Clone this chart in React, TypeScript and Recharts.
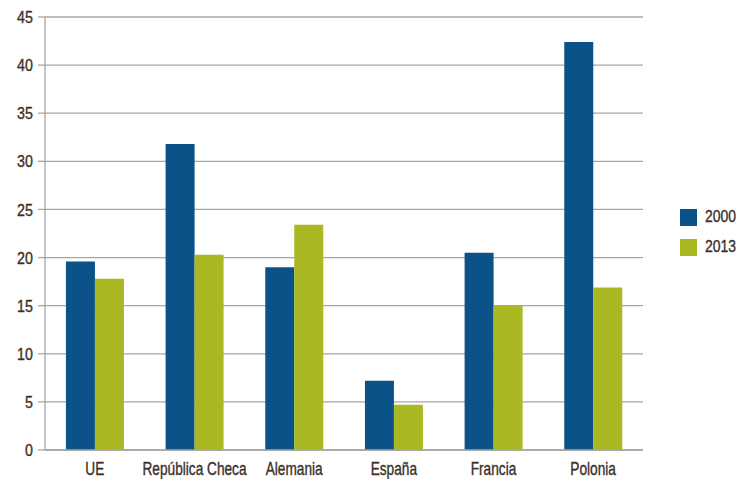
import {
  BarChart,
  Bar,
  XAxis,
  YAxis,
  CartesianGrid,
} from "recharts"

const COUNTRIES = ["UE", "República Checa", "Alemania", "España", "Francia", "Polonia"]
const Y2000 = [19.6, 31.8, 19.0, 7.2, 20.5, 42.4]
const Y2013 = [17.8, 20.3, 23.4, 4.7, 15.0, 16.9]
const Y_TICKS = [0, 5, 10, 15, 20, 25, 30, 35, 40, 45]
const BOUNDARIES = [0, 1, 2, 3, 4, 5, 6]
const SERIES = [
  { key: "2000", color: "#0a5287" },
  { key: "2013", color: "#a9b823" },
]

const GRID = "#a6a6a6"
const TEXT = "#3a3028"
const FONT = "'Liberation Sans', sans-serif"

const data = COUNTRIES.map((name, i) => ({
  name,
  idx: i + 0.5,
  "2000": Y2000[i],
  "2013": Y2013[i],
}))

// the condensed face isn't installed, so squeeze the labels horizontally
const XTick = (props: any) => {
  const { x, y, payload } = props
  return (
    <text
      transform={`translate(${x},${y}) scale(0.76,1)`}
      textAnchor="middle"
      dy="0.71em"
      fill={TEXT}
      stroke={TEXT}
      strokeWidth={0.35}
      fontSize={18}
      fontFamily={FONT}
    >
      {payload.value}
    </text>
  )
}

const YTick = (props: any) => {
  const { x, y, payload } = props
  return (
    <text
      transform={`translate(${x},${y}) scale(0.84,1)`}
      textAnchor="end"
      dy="0.36em"
      fill={TEXT}
      stroke={TEXT}
      strokeWidth={0.35}
      fontSize={17}
      fontFamily={FONT}
    >
      {payload.value}
    </text>
  )
}

export default function App() {
  return (
    <div style={{ position: "absolute", left: 0, top: 0, background: "#fff" }}>
      <BarChart
        width={739}
        height={479}
        data={data}
        margin={{ top: 17, right: 96, bottom: 5, left: 0 }}
        barCategoryGap="21%"
        barGap={0}
      >
        <CartesianGrid vertical={false} stroke={GRID} strokeWidth={1.3} />
        <XAxis
          xAxisId="b"
          type="number"
          dataKey="idx"
          domain={[0, 6]}
          ticks={BOUNDARIES}
          height={0}
          axisLine={false}
          tickLine={{ stroke: GRID, strokeWidth: 1.3 }}
          tickSize={6}
          tickFormatter={() => ""}
        />
        <XAxis
          dataKey="name"
          height={24}
          axisLine={{ stroke: GRID, strokeWidth: 1.3 }}
          tickLine={false}
          tickSize={0}
          tickMargin={12}
          interval={0}
          tick={<XTick />}
        />
        <YAxis
          width={45}
          domain={[0, 45]}
          ticks={Y_TICKS}
          interval={0}
          axisLine={{ stroke: GRID, strokeWidth: 1.3 }}
          tickLine={{ stroke: GRID, strokeWidth: 1.3 }}
          tickSize={7}
          tickMargin={5}
          tick={<YTick />}
        />
        {SERIES.map((s) => (
          <Bar key={s.key} dataKey={s.key} fill={s.color} isAnimationActive={false} />
        ))}
      </BarChart>
      <div
        style={{
          position: "absolute",
          left: 680,
          top: 202,
          fontFamily: FONT,
          fontSize: 17,
          color: TEXT,
          WebkitTextStroke: `0.35px ${TEXT}`,
        }}
      >
        {SERIES.map((s) => (
          <div key={s.key} style={{ display: "flex", alignItems: "center", height: 30 }}>
            <span
              style={{
                width: 17,
                height: 17,
                background: s.color,
                display: "inline-block",
                marginRight: 8,
              }}
            />
            <span style={{ display: "inline-block", transform: "scaleX(0.82)", transformOrigin: "left center" }}>
              {s.key}
            </span>
          </div>
        ))}
      </div>
    </div>
  )
}
